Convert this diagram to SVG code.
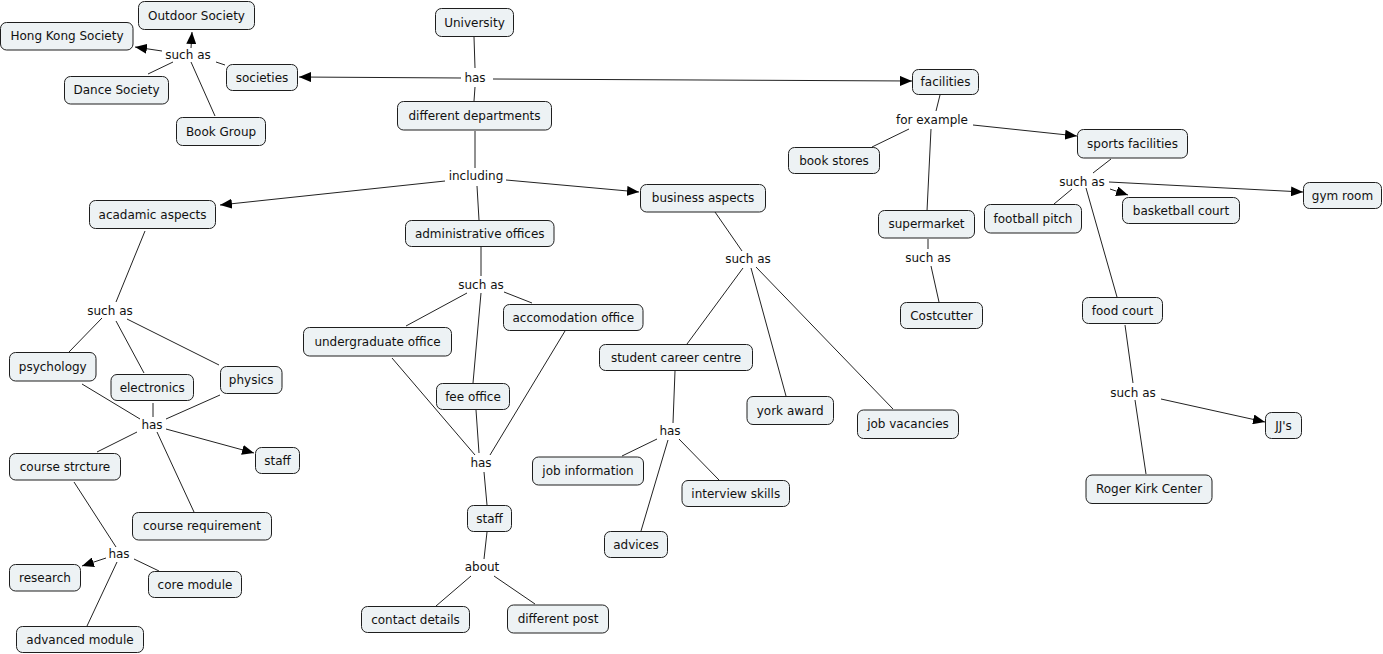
<svg xmlns="http://www.w3.org/2000/svg" width="1383" height="654" viewBox="0 0 1383 654">
<style>
.n rect{fill:#edf2f4;stroke:#1e1e1e;stroke-width:1}
.n text,.lbl text{font-family:"DejaVu Sans",Verdana,sans-serif;font-size:12px;fill:#111;text-anchor:middle;dominant-baseline:central}
.c line{stroke:#222;stroke-width:1;fill:none}
.c line.a{marker-end:url(#ah)}
</style>
<defs>
<marker id="ah" markerUnits="userSpaceOnUse" markerWidth="12" markerHeight="10" refX="12" refY="5" orient="auto">
<path d="M0,0 L12,5 L0,10 z" fill="#000"/>
</marker>
</defs>
<rect width="1383" height="654" fill="#fff"/>
<g id="connectors" class="c">
<!-- societies cluster -->
<line x1="216" y1="62" x2="225" y2="65"/>
<line class="a" x1="191" y1="48" x2="192" y2="32"/>
<line class="a" x1="162" y1="51" x2="135" y2="47"/>
<line x1="148" y1="74" x2="173" y2="62"/>
<line x1="215" y1="116" x2="191" y2="62"/>
<!-- university -->
<line x1="474" y1="37" x2="475" y2="68"/>
<line class="a" x1="461" y1="78" x2="299" y2="77"/>
<line class="a" x1="493" y1="79" x2="912" y2="81"/>
<line x1="475" y1="87" x2="474" y2="101"/>
<line x1="475" y1="131" x2="475" y2="168"/>
<line class="a" x1="445" y1="181" x2="220" y2="205"/>
<line class="a" x1="506" y1="180" x2="639" y2="192"/>
<line x1="477" y1="186" x2="479" y2="220"/>
<!-- academic -->
<line x1="145" y1="231" x2="116" y2="302"/>
<line x1="102" y1="318" x2="69" y2="352"/>
<line x1="116" y1="321" x2="144" y2="373"/>
<line x1="127" y1="319" x2="219" y2="365"/>
<line x1="82" y1="384" x2="140" y2="419"/>
<line x1="153" y1="403" x2="153" y2="417"/>
<line x1="220" y1="395" x2="166" y2="419"/>
<line x1="137" y1="432" x2="97" y2="452"/>
<line x1="157" y1="432" x2="194" y2="512"/>
<line class="a" x1="166" y1="429" x2="254" y2="453"/>
<line x1="74" y1="482" x2="116" y2="547"/>
<line class="a" x1="106" y1="558" x2="82" y2="566"/>
<line x1="134" y1="559" x2="159" y2="571"/>
<line x1="117" y1="562" x2="87" y2="626"/>
<!-- administrative -->
<line x1="481" y1="247" x2="481" y2="276"/>
<line x1="467" y1="293" x2="406" y2="326"/>
<line x1="481" y1="293" x2="473" y2="383"/>
<line x1="504" y1="292" x2="532" y2="303"/>
<line x1="392" y1="358" x2="475" y2="455"/>
<line x1="476" y1="410" x2="479" y2="453"/>
<line x1="565" y1="331" x2="490" y2="455"/>
<line x1="484" y1="472" x2="487" y2="505"/>
<line x1="487" y1="532" x2="484" y2="559"/>
<line x1="471" y1="576" x2="436" y2="606"/>
<line x1="494" y1="576" x2="535" y2="604"/>
<!-- business -->
<line x1="715" y1="212" x2="742" y2="251"/>
<line x1="743" y1="268" x2="687" y2="344"/>
<line x1="751" y1="268" x2="786" y2="396"/>
<line x1="756" y1="267" x2="893" y2="409"/>
<line x1="675" y1="371" x2="673" y2="423"/>
<line x1="657" y1="439" x2="622" y2="456"/>
<line x1="679" y1="439" x2="719" y2="480"/>
<line x1="668" y1="440" x2="641" y2="531"/>
<!-- facilities -->
<line x1="940" y1="95" x2="936" y2="111"/>
<line x1="909" y1="129" x2="872" y2="147"/>
<line x1="931" y1="129" x2="927" y2="211"/>
<line class="a" x1="973" y1="125" x2="1077" y2="136"/>
<line x1="928" y1="239" x2="928" y2="249"/>
<line x1="931" y1="266" x2="939" y2="302"/>
<line x1="1111" y1="159" x2="1093" y2="173"/>
<line x1="1072" y1="189" x2="1054" y2="204"/>
<line class="a" x1="1110" y1="189" x2="1128" y2="195"/>
<line class="a" x1="1109" y1="182" x2="1303" y2="192"/>
<line x1="1086" y1="188" x2="1117" y2="297"/>
<line x1="1125" y1="325" x2="1133" y2="383"/>
<line x1="1135" y1="400" x2="1146" y2="474"/>
<line class="a" x1="1161" y1="399" x2="1265" y2="422"/>
</g>
<g id="link-labels" class="lbl">
<text x="188" y="55">such as</text>
<text x="475" y="78">has</text>
<text x="476" y="176">including</text>
<text x="110" y="311">such as</text>
<text x="152" y="425">has</text>
<text x="119" y="554">has</text>
<text x="481" y="285">such as</text>
<text x="481" y="463">has</text>
<text x="482" y="567">about</text>
<text x="748" y="259">such as</text>
<text x="670" y="431">has</text>
<text x="932" y="120">for example</text>
<text x="1082" y="182">such as</text>
<text x="928" y="258">such as</text>
<text x="1133" y="393">such as</text>
</g>
<g id="n-outdoor" class="n"><rect x="138.5" y="1.5" width="116" height="28" rx="6"/><text x="196.5" y="15.5">Outdoor Society</text></g>
<g id="n-hongkong" class="n"><rect x="0.5" y="22.5" width="132.5" height="27.5" rx="6"/><text x="67" y="36">Hong Kong Society</text></g>
<g id="n-societies" class="n"><rect x="226.5" y="64.5" width="71" height="26" rx="6"/><text x="262" y="77.5">societies</text></g>
<g id="n-dance" class="n"><rect x="64.5" y="76.5" width="104" height="27.5" rx="6"/><text x="116.5" y="90">Dance Society</text></g>
<g id="n-book" class="n"><rect x="176.5" y="117.5" width="89" height="28" rx="6"/><text x="221" y="131.5">Book Group</text></g>
<g id="n-university" class="n"><rect x="435.5" y="8.5" width="78" height="28" rx="6"/><text x="474.5" y="22.5">University</text></g>
<g id="n-facilities" class="n"><rect x="912.5" y="69.5" width="66" height="25" rx="6"/><text x="945.5" y="82">facilities</text></g>
<g id="n-departments" class="n"><rect x="397.5" y="101.5" width="154" height="28.5" rx="6"/><text x="474.5" y="116">different departments</text></g>
<g id="n-acadamic" class="n"><rect x="89.5" y="200.5" width="126" height="28" rx="6"/><text x="152.5" y="214.5">acadamic aspects</text></g>
<g id="n-business" class="n"><rect x="640.5" y="184.5" width="125" height="27.5" rx="6"/><text x="703" y="198">business aspects</text></g>
<g id="n-admin" class="n"><rect x="405.5" y="220.5" width="148.5" height="26" rx="6"/><text x="479.75" y="233.5">administrative offices</text></g>
<g id="n-undergrad" class="n"><rect x="303.5" y="327.5" width="148" height="28.5" rx="6"/><text x="377.5" y="342">undergraduate office</text></g>
<g id="n-accomodation" class="n"><rect x="503.5" y="304.5" width="139.5" height="26" rx="6"/><text x="573.25" y="317.5">accomodation office</text></g>
<g id="n-fee" class="n"><rect x="436.5" y="383.5" width="73" height="26" rx="6"/><text x="473" y="396.5">fee office</text></g>
<g id="n-staff-admin" class="n"><rect x="467.5" y="505.5" width="44" height="26" rx="6"/><text x="489.5" y="518.5">staff</text></g>
<g id="n-contact" class="n"><rect x="361.5" y="606.5" width="108" height="26" rx="6"/><text x="415.5" y="619.5">contact details</text></g>
<g id="n-post" class="n"><rect x="507.5" y="605" width="101" height="28" rx="6"/><text x="558" y="619">different post</text></g>
<g id="n-career" class="n"><rect x="599.5" y="344.5" width="153" height="26" rx="6"/><text x="676" y="357.5">student career centre</text></g>
<g id="n-york" class="n"><rect x="747" y="396.5" width="86.5" height="28" rx="6"/><text x="790.25" y="410.5">york award</text></g>
<g id="n-vacancies" class="n"><rect x="857.5" y="410" width="101" height="28.5" rx="6"/><text x="908" y="424.25">job vacancies</text></g>
<g id="n-jobinfo" class="n"><rect x="532.5" y="457" width="111" height="28" rx="6"/><text x="588" y="471">job information</text></g>
<g id="n-advices" class="n"><rect x="604.5" y="531.5" width="63" height="26" rx="6"/><text x="636" y="544.5">advices</text></g>
<g id="n-interview" class="n"><rect x="682" y="480.5" width="107.5" height="26" rx="6"/><text x="735.75" y="493.5">interview skills</text></g>
<g id="n-bookstores" class="n"><rect x="788.5" y="147.5" width="91" height="26" rx="6"/><text x="834" y="160.5">book stores</text></g>
<g id="n-supermarket" class="n"><rect x="878.5" y="210.5" width="96" height="27.5" rx="6"/><text x="926.5" y="224">supermarket</text></g>
<g id="n-costcutter" class="n"><rect x="900.5" y="302.5" width="82" height="26" rx="6"/><text x="941.5" y="315.5">Costcutter</text></g>
<g id="n-sports" class="n"><rect x="1077.5" y="129.5" width="110" height="28.5" rx="6"/><text x="1132.5" y="143.5">sports facilities</text></g>
<g id="n-football" class="n"><rect x="984.5" y="204.5" width="97" height="28.5" rx="6"/><text x="1033" y="218.5">football pitch</text></g>
<g id="n-basketball" class="n"><rect x="1122.5" y="197.5" width="117" height="26" rx="6"/><text x="1181" y="210.5">basketball court</text></g>
<g id="n-gym" class="n"><rect x="1303.5" y="182.5" width="78" height="26" rx="6"/><text x="1342.5" y="195.5">gym room</text></g>
<g id="n-foodcourt" class="n"><rect x="1082.5" y="297.5" width="80" height="26" rx="6"/><text x="1122.5" y="310.5">food court</text></g>
<g id="n-jjs" class="n"><rect x="1265.5" y="412.5" width="36" height="26" rx="6"/><text x="1283.5" y="425.5">JJ's</text></g>
<g id="n-roger" class="n"><rect x="1086" y="475" width="126" height="28.5" rx="6"/><text x="1149" y="489">Roger Kirk Center</text></g>
<g id="n-psychology" class="n"><rect x="9.5" y="352.5" width="86.5" height="28.5" rx="6"/><text x="52.75" y="366.5">psychology</text></g>
<g id="n-electronics" class="n"><rect x="111" y="374.5" width="82.5" height="26" rx="6"/><text x="152.25" y="387.5">electronics</text></g>
<g id="n-physics" class="n"><rect x="220.5" y="366.5" width="61.5" height="27" rx="6"/><text x="251.25" y="380">physics</text></g>
<g id="n-staff-acad" class="n"><rect x="255.5" y="447.5" width="44" height="26" rx="6"/><text x="277.5" y="460.5">staff</text></g>
<g id="n-structure" class="n"><rect x="9.5" y="453.5" width="111" height="26.5" rx="6"/><text x="65" y="466.75">course strcture</text></g>
<g id="n-requirement" class="n"><rect x="132.5" y="512.5" width="139" height="27.5" rx="6"/><text x="202" y="526.25">course requirement</text></g>
<g id="n-research" class="n"><rect x="9.5" y="564.5" width="71" height="26.5" rx="6"/><text x="45" y="577.75">research</text></g>
<g id="n-core" class="n"><rect x="148.5" y="571.5" width="93" height="26" rx="6"/><text x="195" y="584.5">core module</text></g>
<g id="n-advanced" class="n"><rect x="16.5" y="626.5" width="127" height="26" rx="6"/><text x="80" y="639.5">advanced module</text></g>
</svg>
